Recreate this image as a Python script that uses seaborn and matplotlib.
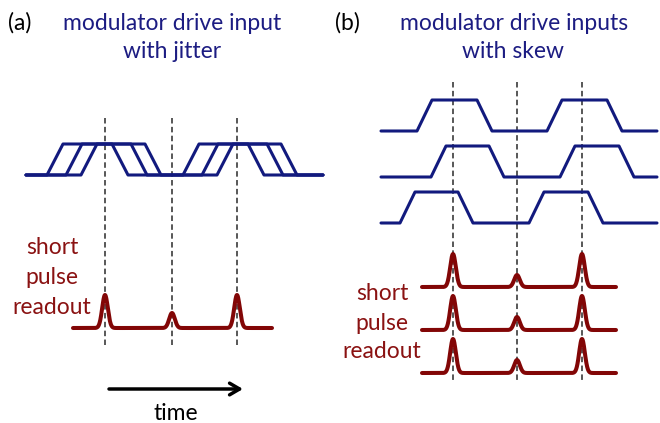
import numpy as np
import pandas as pd
import matplotlib
matplotlib.use("Agg")
import matplotlib.pyplot as plt
import seaborn as sns

# ---------------- data (schematic, in pixel-like time/level units) ----------------
# Panel (a): one drive input drawn three times with timing jitter
a_x_range = [26, 323]
a_levels = [175, 144]            # low, high
a_rises = [[47, 183], [66, 202], [81, 217]]
a_falls = [[112, 248], [131, 267], [145, 281]]
a_edge = 16
a_clock = [105, 172, 237]
a_clock_span = [118, 345]
a_pulse_range = [73, 272]
a_pulse_base = 328
a_pulse_heights = [33, 15, 33]

# Panel (b): three drive inputs with skew
b_x_range = [381, 657]
b_lows = [131, 177, 223]
b_highs = [100, 146, 192]
b_rises = [[417, 547], [431, 560], [400, 529]]
b_falls = [[477, 607], [489, 619], [458, 588]]
b_edge = 15
b_clock = [453, 517, 582]
b_clock_span = [82, 380]
b_pulse_range = [422, 616]
b_pulse_bases = [287, 330, 373]
b_pulse_heights = [[33, 12, 33], [34, 13, 34], [34, 13, 34]]

pulse_sigma = 2.8

BLUE = "#121a7e"
TBLUE = "#1c1c82"
RED = "#820606"
TRED = "#8a1212"

sns.set_theme(style="white")
plt.rcParams["font.family"] = ["Lato", "DejaVu Sans"]

fig = plt.figure(figsize=(6.6, 4.23), dpi=100)
ax = fig.add_axes([0, 0, 1, 1])
ax.set_xlim(0, 660)
ax.set_ylim(423, 0)
ax.axis("off")


def trapezoid(xr, rises, falls, edge, low, high):
    xs, ys = [xr[0]], [low]
    for r, f in zip(rises, falls):
        xs += [r, r + edge, f, f + edge]
        ys += [low, high, high, low]
    xs.append(xr[1]); ys.append(low)
    return pd.DataFrame({"t": xs, "v": ys})


def pulses(xr, base, centers, heights):
    t = np.linspace(xr[0], xr[1], 1500)
    v = np.full_like(t, float(base))
    for c, h in zip(centers, heights):
        v -= h * np.exp(-(t - c) ** 2 / (2 * pulse_sigma ** 2))
    return pd.DataFrame({"t": t, "v": v})


dash = (0, (3.6, 2.2))
for c in a_clock:
    ax.plot([c, c], a_clock_span, color="#2a2a2a", lw=1.1, ls=dash, zorder=1)
for c in b_clock:
    ax.plot([c, c], b_clock_span, color="#2a2a2a", lw=1.1, ls=dash, zorder=1)

# panel (a) traces
for r, f in zip(a_rises, a_falls):
    df = trapezoid(a_x_range, r, f, a_edge, a_levels[0], a_levels[1])
    sns.lineplot(data=df, x="t", y="v", ax=ax, color=BLUE, lw=2.2,
                 estimator=None, sort=False, zorder=3)
df = pulses(a_pulse_range, a_pulse_base, a_clock, a_pulse_heights)
sns.lineplot(data=df, x="t", y="v", ax=ax, color=RED, lw=2.9,
             estimator=None, sort=False, zorder=3)

# panel (b) traces
for r, f, lo, hi in zip(b_rises, b_falls, b_lows, b_highs):
    df = trapezoid(b_x_range, r, f, b_edge, lo, hi)
    sns.lineplot(data=df, x="t", y="v", ax=ax, color=BLUE, lw=2.2,
                 estimator=None, sort=False, zorder=3)
for base, hs in zip(b_pulse_bases, b_pulse_heights):
    df = pulses(b_pulse_range, base, b_clock, hs)
    sns.lineplot(data=df, x="t", y="v", ax=ax, color=RED, lw=2.9,
                 estimator=None, sort=False, zorder=3)

ax.set_xlim(0, 660)
ax.set_ylim(423, 0)
ax.axis("off")

# ---------------- text ----------------
fs = 16.5
kw = dict(ha="center", va="center", fontsize=fs)
ax.text(20, 23, "(a)", color="black", **kw)
ax.text(172, 23, "modulator drive input", color=TBLUE, **kw)
ax.text(172, 52, "with jitter", color=TBLUE, **kw)
ax.text(347, 23, "(b)", color="black", **kw)
ax.text(514, 23, "modulator drive inputs", color=TBLUE, **kw)
ax.text(513, 52, "with skew", color=TBLUE, **kw)

for x0, ys in [(52, [248, 278, 307]), (382, [293, 323, 352])]:
    for y, s in zip(ys, ["short", "pulse", "readout"]):
        ax.text(x0, y, s, color=TRED, **kw)

ax.annotate("", xy=(243, 389), xytext=(109, 389),
            arrowprops=dict(arrowstyle="->,head_length=0.6,head_width=0.35",
                            color="black", lw=2.5, shrinkA=0, shrinkB=0))
ax.text(176, 413, "time", color="black", **kw)

fig.savefig("out.png", dpi=100)
